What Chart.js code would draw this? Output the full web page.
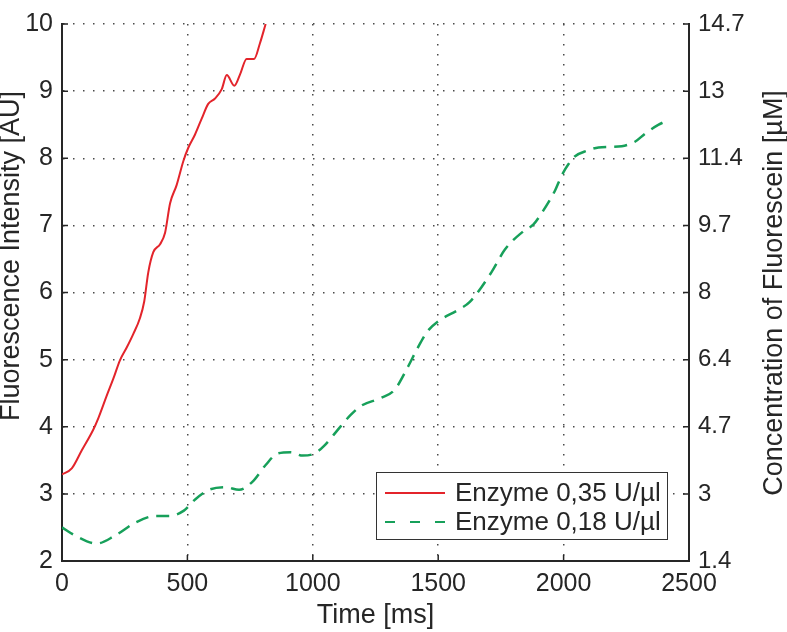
<!DOCTYPE html>
<html lang="en">
<head>
<meta charset="UTF-8">
<title>Fluorescence Intensity vs Time</title>
<script src="https://cdn.jsdelivr.net/npm/chart.js"></script>
<style>
  html, body { margin: 0; padding: 0; background: #fff; }
  #wrap { width: 787px; height: 632px; }
</style>
</head>
<body>
<div id="wrap"><canvas id="fluoChart" width="787" height="632"></canvas></div>
<script>
// values
const redTime = [0, 39, 79, 125, 145, 178, 205, 231, 258, 284, 311, 328, 344, 364, 391, 411, 431,
                 457, 484, 504, 530, 557, 583, 610, 637, 657, 687, 710, 736, 766, 789, 812];
const redIntensity = [3.29, 3.38, 3.65, 3.96, 4.13, 4.46, 4.72, 4.99, 5.18, 5.38, 5.62, 5.87, 6.30, 6.60, 6.72, 6.89, 7.33,
                      7.60, 7.96, 8.16, 8.35, 8.59, 8.81, 8.89, 9.03, 9.24, 9.08, 9.25, 9.48, 9.48, 9.71, 10.0];

const greenTime = [0, 52, 138, 212, 292, 372, 426, 486, 532, 586, 652, 706, 759, 812, 859, 912, 959, 1006,
                   1046, 1112, 1152, 1192, 1272, 1326, 1379, 1419, 1459, 1499, 1579, 1626, 1712, 1766, 1839,
                   1879, 1912, 1966, 1992, 2019, 2046, 2092, 2139, 2232, 2286, 2326, 2379, 2419];
const greenIntensity = [2.50, 2.38, 2.26, 2.38, 2.57, 2.67, 2.67, 2.75, 2.92, 3.06, 3.10, 3.06, 3.18, 3.43, 3.60, 3.62, 3.57, 3.60,
                        3.72, 4.01, 4.18, 4.31, 4.43, 4.55, 4.89, 5.18, 5.43, 5.57, 5.74, 5.86, 6.30, 6.64, 6.91,
                        7.01, 7.18, 7.52, 7.74, 7.91, 8.03, 8.11, 8.16, 8.18, 8.25, 8.37, 8.50, 8.57];

const seriesLabels = ['Enzyme 0,35 U/µl', 'Enzyme 0,18 U/µl'];
// right axis: concentration labels at the intensity ticks 2..10
const concLabels = ['1.4', '3', '4.7', '6.4', '8', '9.7', '11.4', '13', '14.7'];

const FONT = '"Liberation Sans", Arial, Helvetica, sans-serif';
const TEXT = '#262626';
const AXIS = '#262626';

function toPoints(xs, ys) {
    return xs.map((x, i) => ({ x: x, y: ys[i] }));
}

const gridOpts = { color: '#4a4a4a', lineWidth: 1.5, drawTicks: false };
const borderOpts = { display: true, color: AXIS, width: 2, dash: [1.5, 8.5] };

// inward tick marks, rotated y titles and boxed legend, like the original
const matlabFrame = {
    id: 'matlabFrame',
    afterDraw(chart) {
        const ctx = chart.ctx;
        const ca = chart.chartArea;
        const xs = chart.scales.x;
        const ys = chart.scales.y;
        const tickLen = 6;

        ctx.save();
        ctx.strokeStyle = AXIS;
        ctx.lineWidth = 1.5;
        ctx.beginPath();
        xs.ticks.forEach(t => {
            const px = xs.getPixelForValue(t.value);
            ctx.moveTo(px, ca.bottom);
            ctx.lineTo(px, ca.bottom - tickLen);
        });
        ys.ticks.forEach(t => {
            const py = ys.getPixelForValue(t.value);
            ctx.moveTo(ca.left, py);
            ctx.lineTo(ca.left + tickLen, py);
            ctx.moveTo(ca.right, py);
            ctx.lineTo(ca.right - tickLen, py);
        });
        ctx.stroke();

        // y axis titles, both reading bottom to top
        ctx.fillStyle = TEXT;
        ctx.font = '27px ' + FONT;
        ctx.textAlign = 'center';
        ctx.textBaseline = 'middle';
        ctx.save();
        ctx.translate(12, 256);
        ctx.rotate(-Math.PI / 2);
        ctx.fillText('Fluorescence Intensity [AU]', 0, 0);
        ctx.restore();
        ctx.save();
        ctx.translate(775, 293);
        ctx.rotate(-Math.PI / 2);
        ctx.fillText('Concentration of Fluorescein [µM]', 0, 0);
        ctx.restore();

        // legend box in lower right of the plot
        const boxW = 291, boxH = 67;
        const bx = ca.right - 22 - boxW;
        const by = ca.bottom - 22 - boxH;
        ctx.fillStyle = '#fff';
        ctx.fillRect(bx, by, boxW, boxH);
        ctx.strokeStyle = '#333';
        ctx.lineWidth = 1;
        ctx.strokeRect(bx + 0.5, by + 0.5, boxW, boxH);

        ctx.font = '26px ' + FONT;
        ctx.textAlign = 'left';
        chart.data.datasets.forEach((ds, i) => {
            const ry = by + 21 + i * 29;
            ctx.strokeStyle = ds.borderColor;
            ctx.lineWidth = 2;
            ctx.setLineDash(ds.borderDash ? [10, 15] : []);
            ctx.beginPath();
            ctx.moveTo(bx + 9, ry);
            ctx.lineTo(bx + 69, ry);
            ctx.stroke();
            ctx.setLineDash([]);
            ctx.fillStyle = TEXT;
            ctx.fillText(ds.label, bx + 79, ry + 1);
        });
        ctx.restore();
    }
};

new Chart(document.getElementById('fluoChart'), {
    type: 'line',
    data: {
        datasets: [
            {
                label: seriesLabels[0],
                data: toPoints(redTime, redIntensity),
                borderColor: '#e3242b',
                borderWidth: 2,
                pointRadius: 0,
                cubicInterpolationMode: 'monotone',
                fill: false,
                yAxisID: 'y'
            },
            {
                label: seriesLabels[1],
                data: toPoints(greenTime, greenIntensity),
                borderColor: '#17a05a',
                borderWidth: 2.5,
                borderDash: [13, 8],
                pointRadius: 0,
                cubicInterpolationMode: 'monotone',
                fill: false,
                yAxisID: 'y'
            }
        ]
    },
    options: {
        responsive: false,
        animation: false,
        layout: { padding: 0 },
        scales: {
            x: {
                type: 'linear',
                min: 0,
                max: 2500,
                ticks: {
                    stepSize: 500, maxRotation: 0, padding: 8, color: TEXT, font: { family: FONT, size: 25 },
                    callback: v => String(v)
                },
                grid: gridOpts,
                border: borderOpts,
                title: { display: true, text: 'Time [ms]', color: TEXT, padding: 0, font: { family: FONT, size: 27 } },
                afterFit(s) { s.height = 71; }
            },
            y: {
                position: 'left',
                min: 2,
                max: 10,
                ticks: { stepSize: 1, padding: 9, color: TEXT, font: { family: FONT, size: 25 } },
                grid: gridOpts,
                border: borderOpts,
                afterFit(s) { s.width = 62; }
            },
            y2: {
                position: 'right',
                min: 2,
                max: 10,
                ticks: {
                    stepSize: 1, padding: 9, color: TEXT, font: { family: FONT, size: 24 },
                    callback: (v, i) => concLabels[i]
                },
                grid: { drawOnChartArea: false, drawTicks: false },
                border: { display: true, color: AXIS, width: 2 },
                afterFit(s) { s.width = 98; }
            }
        },
        plugins: {
            legend: { display: false },
            tooltip: { enabled: false }
        }
    },
    plugins: [matlabFrame]
});
</script>
</body>
</html>
